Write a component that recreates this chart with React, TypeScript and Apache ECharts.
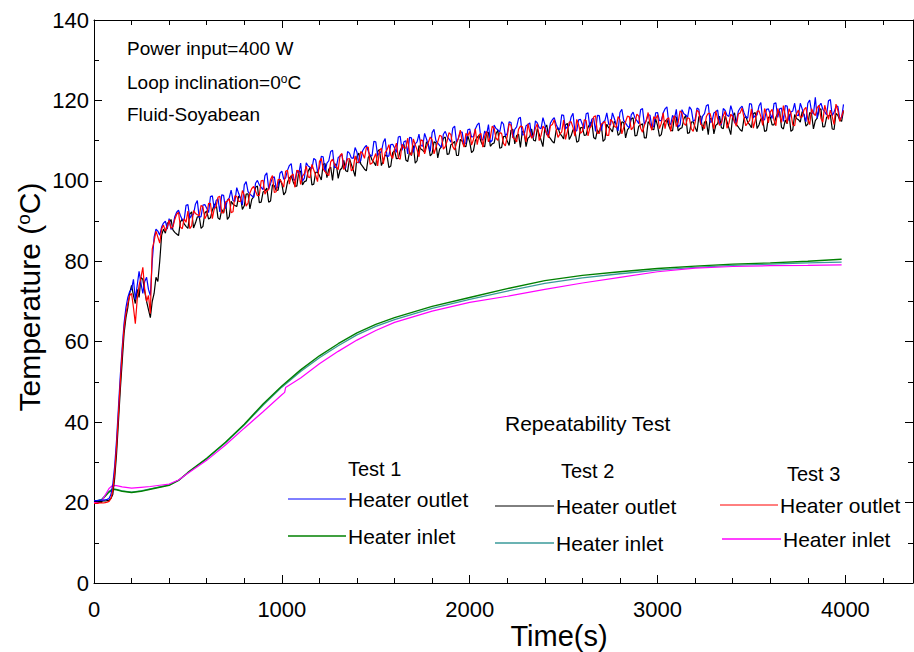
import React, { useEffect, useRef } from "react";
import * as echarts from "echarts";

// Sampling interval of the heater-outlet records (s)
const OUTLET_STEP_S = 10;

// Heater outlet temperature (°C), one value every 10 s from t = 0 to 3990 s
const outletTest1 = [
  20.5, 20.5, 20.5, 20.6, 20.6, 20.6, 20.7, 20.8, 21.0, 22.0, 24.5, 29.0, 35.5, 43.5, 51.5, 58.5, 64.5, 68.5, 71.0, 72.5,
  73.0, 75.5, 70.5, 74.0, 77.5, 74.5, 72.0, 75.0, 76.0, 73.0, 71.5, 80.0, 86.0, 88.0, 87.5, 86.5, 88.5, 89.5, 90.0, 88.0,
  90.6, 87.9, 88.6, 91.1, 92.2, 92.7, 91.4, 90.3, 90.3, 93.9, 94.1, 90.7, 91.5, 91.7, 94.2, 95.1, 90.9, 91.1, 94.0, 94.1,
  93.2, 92.1, 96.1, 96.3, 93.0, 95.1, 95.6, 92.3, 96.5, 96.4, 93.1, 95.2, 95.8, 97.7, 95.1, 94.9, 98.3, 96.9, 95.6, 94.0,
  99.0, 99.8, 97.3, 96.7, 96.3, 95.9, 99.4, 100.1, 99.0, 98.4, 97.8, 101.3, 102.0, 98.0, 99.3, 100.8, 101.0, 98.0, 98.6, 101.9,
  102.4, 100.4, 100.7, 102.6, 103.8, 104.3, 100.5, 100.1, 102.6, 101.7, 104.4, 100.0, 100.7, 104.5, 103.7, 103.4, 103.0, 105.6, 105.2, 102.3,
  103.2, 106.1, 106.0, 102.2, 104.4, 105.0, 107.3, 107.6, 103.3, 103.4, 105.8, 106.1, 106.6, 103.1, 103.3, 107.3, 106.9, 105.7, 105.6, 108.3,
  107.1, 104.4, 105.0, 107.5, 108.3, 108.8, 107.4, 106.3, 106.2, 109.8, 109.7, 106.3, 107.0, 107.2, 109.6, 110.5, 106.0, 106.2, 109.0, 109.1,
  108.2, 107.1, 110.9, 111.1, 107.6, 109.7, 110.0, 106.7, 110.8, 110.7, 107.1, 109.2, 109.7, 111.6, 108.8, 108.6, 111.8, 110.4, 108.9, 107.3,
  112.0, 112.8, 110.0, 109.4, 108.8, 108.4, 111.6, 112.3, 111.0, 110.4, 109.6, 113.1, 113.6, 109.6, 110.6, 112.1, 112.1, 109.1, 109.4, 112.7,
  112.9, 110.9, 111.0, 112.9, 113.9, 114.4, 110.5, 110.1, 112.4, 111.5, 114.0, 109.6, 110.1, 113.9, 113.0, 112.7, 112.1, 114.7, 114.1, 111.2,
  111.8, 114.7, 114.5, 110.7, 112.8, 113.4, 115.5, 115.8, 111.4, 111.5, 113.7, 114.0, 114.4, 110.9, 110.9, 114.9, 114.4, 113.2, 113.0, 115.7,
  114.1, 111.4, 111.9, 114.4, 115.2, 115.7, 114.1, 113.0, 112.8, 116.4, 116.3, 112.9, 113.5, 113.7, 115.9, 116.8, 112.3, 112.5, 115.2, 115.3,
  114.0, 112.9, 116.7, 116.9, 113.2, 115.3, 115.6, 112.3, 116.3, 116.2, 112.5, 114.6, 115.0, 116.9, 114.1, 113.9, 116.9, 115.5, 114.0, 112.4,
  117.0, 117.8, 115.0, 114.4, 113.6, 113.2, 116.4, 117.1, 115.6, 115.0, 114.2, 117.7, 118.0, 114.0, 115.0, 116.5, 116.3, 113.3, 113.6, 116.9,
  117.0, 115.0, 115.0, 116.9, 117.9, 118.4, 114.4, 114.0, 116.3, 115.4, 117.8, 113.4, 113.9, 117.7, 116.7, 116.4, 115.8, 118.4, 117.7, 114.8,
  115.2, 118.1, 117.8, 114.0, 116.1, 116.7, 118.7, 119.0, 114.6, 114.7, 116.9, 117.2, 117.6, 114.1, 114.0, 118.0, 117.5, 116.3, 116.0, 118.7,
  117.1, 114.4, 114.8, 117.3, 118.1, 118.6, 117.0, 115.9, 115.6, 119.2, 119.1, 115.7, 116.2, 116.4, 118.6, 119.5, 115.0, 115.2, 117.8, 117.9,
  116.6, 115.5, 119.2, 119.4, 115.8, 117.9, 118.1, 114.8, 118.7, 118.6, 115.0, 117.1, 117.4, 119.3, 116.4, 116.2, 119.3, 117.9, 116.3, 114.7,
  119.3, 120.1, 117.2, 116.6, 120.8, 115.5, 118.6, 119.3, 117.8, 117.2, 116.4, 119.9, 120.2, 116.2, 117.1, 118.6, 118.5, 115.5, 115.7, 119.0,
];

const outletTest2 = [
  20.3, 20.3, 20.3, 20.3, 20.3, 20.4, 20.4, 20.5, 20.6, 21.0, 22.0, 26.0, 32.0, 40.0, 48.0, 55.0, 62.0, 66.0, 68.5, 72.0,
  74.0, 71.5, 69.5, 73.0, 71.0, 76.0, 75.5, 72.5, 70.0, 68.0, 66.0, 70.0, 72.0, 76.0, 75.0, 80.0, 86.5, 88.0, 87.0, 89.5,
  89.6, 90.4, 87.8, 87.2, 86.8, 86.4, 89.8, 90.5, 89.3, 88.7, 88.2, 91.7, 92.3, 88.3, 89.5, 91.0, 91.2, 88.2, 88.7, 92.0,
  92.5, 90.5, 90.8, 92.7, 94.0, 94.5, 90.8, 90.4, 92.9, 92.0, 94.8, 90.4, 91.1, 94.9, 94.2, 93.9, 93.6, 96.2, 95.8, 92.9,
  93.8, 96.7, 96.8, 93.0, 95.4, 96.0, 98.4, 98.7, 94.6, 94.7, 97.2, 97.5, 98.2, 94.7, 95.0, 99.0, 98.8, 97.6, 97.7, 100.4,
  99.2, 96.5, 97.2, 99.7, 100.7, 101.2, 99.8, 98.7, 98.7, 102.3, 102.4, 99.0, 99.8, 100.0, 102.4, 103.3, 99.0, 99.2, 102.1, 102.2,
  101.3, 100.2, 104.1, 104.3, 100.8, 102.9, 103.4, 100.1, 104.2, 104.1, 100.6, 102.7, 103.2, 105.1, 102.5, 102.3, 105.5, 104.1, 102.7, 101.1,
  106.1, 106.9, 104.2, 103.6, 102.9, 102.5, 105.8, 106.5, 105.2, 104.6, 103.8, 107.3, 107.8, 103.8, 104.9, 106.4, 106.3, 103.3, 103.7, 107.0,
  107.5, 105.5, 105.6, 107.5, 108.6, 109.1, 105.2, 104.8, 107.2, 106.3, 108.8, 104.4, 105.0, 108.8, 107.9, 107.6, 107.1, 109.7, 109.1, 106.2,
  106.8, 109.7, 109.5, 105.7, 107.9, 108.5, 110.6, 110.9, 106.6, 106.7, 109.0, 109.3, 109.8, 106.3, 106.3, 110.3, 109.9, 108.7, 108.5, 111.2,
  109.7, 107.0, 107.5, 110.0, 110.8, 111.3, 109.8, 108.7, 108.5, 112.1, 112.0, 108.6, 109.2, 109.4, 111.7, 112.6, 108.1, 108.3, 111.0, 111.1,
  109.9, 108.8, 112.6, 112.8, 109.2, 111.3, 111.6, 108.3, 112.3, 112.2, 108.5, 110.6, 111.0, 112.9, 110.1, 109.9, 113.0, 111.6, 110.1, 108.5,
  113.1, 113.9, 111.1, 110.5, 109.8, 109.4, 112.5, 113.2, 111.8, 111.2, 110.4, 113.9, 114.3, 110.3, 111.2, 112.7, 112.6, 109.6, 109.9, 113.2,
  113.3, 111.3, 111.4, 113.3, 114.2, 114.7, 110.8, 110.4, 112.7, 111.8, 114.2, 109.8, 110.3, 114.1, 113.2, 112.9, 112.2, 114.8, 114.2, 111.3,
  111.8, 114.7, 114.5, 110.7, 112.7, 113.3, 115.4, 115.7, 111.2, 111.3, 113.6, 113.9, 114.2, 110.7, 110.7, 114.7, 114.1, 112.9, 112.7, 115.4,
  113.8, 111.1, 111.5, 114.0, 114.8, 115.3, 113.7, 112.6, 112.4, 116.0, 115.8, 112.4, 113.0, 113.2, 115.4, 116.3, 111.8, 112.0, 114.6, 114.7,
  113.3, 112.2, 115.9, 116.1, 112.5, 114.6, 114.8, 111.5, 115.5, 115.4, 111.7, 113.8, 114.2, 116.1, 113.2, 113.0, 116.1, 114.7, 113.1, 111.5,
  116.1, 116.9, 114.0, 113.4, 112.7, 112.3, 115.4, 116.1, 114.6, 114.0, 113.2, 116.7, 117.0, 113.0, 113.9, 115.4, 115.3, 112.3, 112.5, 115.8,
  115.9, 113.9, 113.9, 115.8, 116.8, 117.3, 113.3, 112.9, 115.1, 114.2, 116.7, 112.3, 112.7, 116.5, 115.5, 115.2, 114.6, 117.2, 116.5, 113.6,
  114.1, 117.0, 116.7, 112.9, 115.0, 115.6, 117.6, 117.9, 113.4, 113.5, 115.8, 116.1, 116.4, 112.9, 112.8, 116.8, 116.3, 115.1, 114.8, 117.5,
];

const outletTest3 = [
  19.8, 19.8, 19.8, 19.9, 19.9, 19.9, 20.0, 20.1, 20.3, 21.0, 23.0, 27.5, 34.0, 42.0, 50.0, 57.5, 63.5, 67.0, 69.5, 71.5,
  72.0, 68.5, 64.5, 70.5, 74.0, 76.0, 78.5, 73.0, 70.0, 71.5, 67.0, 83.0, 85.0, 87.5, 86.0, 84.5, 88.0, 89.0, 87.5, 88.5,
  90.2, 88.2, 88.5, 90.4, 91.7, 92.2, 88.5, 88.1, 90.6, 89.7, 92.5, 88.1, 88.8, 92.6, 91.9, 91.6, 91.3, 93.9, 93.5, 90.6,
  91.5, 94.4, 94.4, 90.6, 93.0, 93.6, 95.9, 96.2, 92.0, 92.1, 94.7, 95.0, 95.6, 92.1, 92.3, 96.3, 96.1, 94.9, 94.9, 97.6,
  96.4, 93.7, 94.5, 97.0, 98.1, 98.6, 97.4, 96.3, 96.4, 100.0, 100.1, 96.7, 97.6, 97.8, 100.4, 101.3, 97.1, 97.3, 100.3, 100.4,
  99.5, 98.4, 102.4, 102.6, 99.2, 101.3, 101.7, 98.4, 102.6, 102.5, 99.1, 101.2, 101.8, 103.7, 101.0, 100.8, 104.1, 102.7, 101.4, 99.8,
  104.8, 105.6, 102.9, 102.3, 101.7, 101.3, 104.7, 105.4, 104.1, 103.5, 102.8, 106.3, 106.8, 102.8, 104.0, 105.5, 105.5, 102.5, 102.9, 106.2,
  104.5, 104.7, 107.3, 106.8, 105.6, 108.3, 108.4, 104.1, 104.4, 105.6, 106.8, 103.7, 107.6, 108.1, 104.2, 107.0, 107.7, 109.0, 106.4, 105.6,
  107.9, 109.4, 105.7, 105.4, 109.1, 108.2, 108.1, 110.6, 106.9, 106.4, 110.4, 109.0, 107.7, 106.0, 110.2, 110.0, 106.7, 108.4, 109.6, 110.9,
  110.2, 106.7, 108.3, 109.7, 111.3, 111.1, 107.9, 108.5, 109.9, 112.0, 111.5, 108.5, 107.7, 109.4, 110.6, 112.6, 109.8, 108.4, 111.8, 111.2,
  112.3, 108.9, 110.3, 112.9, 109.0, 111.4, 111.8, 108.4, 111.1, 112.3, 109.7, 110.8, 113.6, 113.1, 110.6, 110.1, 112.0, 111.8, 109.3, 108.7,
  111.1, 114.2, 113.8, 110.8, 110.4, 109.7, 112.8, 113.6, 113.5, 111.6, 109.7, 114.2, 112.2, 110.6, 111.3, 113.1, 114.2, 110.0, 111.3, 113.6,
  112.9, 111.7, 110.7, 113.7, 114.0, 115.2, 112.9, 110.8, 111.6, 112.2, 115.1, 110.3, 112.3, 114.6, 114.7, 113.3, 111.1, 115.3, 114.0, 111.8,
  112.3, 115.2, 115.0, 111.2, 113.2, 113.8, 115.9, 116.2, 111.8, 111.9, 114.1, 114.4, 114.8, 111.3, 111.3, 115.3, 114.7, 113.5, 113.3, 116.0,
  115.2, 111.7, 113.3, 114.7, 116.1, 115.9, 112.7, 113.3, 114.5, 116.6, 116.1, 113.1, 112.1, 113.8, 115.0, 117.0, 114.0, 112.6, 116.0, 115.4,
  116.4, 113.0, 114.3, 116.9, 113.0, 115.4, 115.7, 112.3, 115.0, 116.2, 113.5, 114.6, 117.4, 116.9, 114.3, 113.8, 115.7, 115.5, 112.9, 112.3,
  114.5, 117.6, 117.1, 114.1, 113.7, 113.0, 116.0, 116.8, 116.7, 114.8, 112.9, 117.4, 115.4, 113.8, 114.4, 116.2, 117.3, 113.1, 114.3, 116.6,
  115.9, 114.7, 113.6, 116.6, 116.9, 118.1, 115.8, 113.7, 114.4, 115.0, 117.9, 113.1, 115.0, 117.3, 117.4, 116.0, 113.8, 118.0, 116.6, 114.4,
  117.1, 117.8, 115.1, 113.7, 118.0, 116.4, 114.5, 118.7, 116.3, 114.3, 117.9, 116.9, 113.9, 113.7, 116.7, 117.6, 115.8, 115.9, 117.7, 118.3,
  115.3, 114.0, 117.9, 116.9, 116.2, 118.2, 118.8, 115.5, 114.6, 118.8, 117.0, 115.3, 117.6, 116.0, 114.0, 119.1, 117.5, 114.8, 116.0, 117.5,
];

// Heater inlet temperature (°C) at the listed times (s)
const inletTime = [
  0, 40, 80, 100, 120, 150, 200, 250, 300, 350, 400, 450, 500, 600, 700, 800,
  900, 1000, 1100, 1200, 1300, 1400, 1500, 1600, 1800, 2000, 2200, 2400, 2600,
  2800, 3000, 3200, 3400, 3600, 3800, 3980,
];
const inletTest1 = [
  20.2, 20.6, 22.6, 23.3, 23.2, 22.8, 22.5, 22.8, 23.3, 23.8, 24.3, 25.5, 27.5,
  31.0, 35.0, 39.5, 44.5, 49.0, 53.0, 56.5, 59.5, 62.2, 64.3, 66.0, 68.8, 71.0,
  73.2, 75.2, 76.5, 77.4, 78.2, 78.8, 79.3, 79.6, 80.0, 80.5,
];
const inletTest2 = [
  20.3, 20.8, 22.8, 23.4, 23.3, 22.9, 22.6, 22.9, 23.4, 23.9, 24.4, 25.5, 27.4,
  30.9, 34.9, 39.3, 44.2, 48.7, 52.6, 56.0, 59.0, 61.7, 63.8, 65.5, 68.3, 70.5,
  72.6, 74.5, 75.9, 76.9, 77.8, 78.5, 79.0, 79.3, 79.6, 79.8,
];
const inletTest3Time = [
  0, 40, 80, 100, 120, 150, 200, 250, 300, 350, 400, 450, 500, 600, 700, 800,
  900, 1000, 1015, 1020, 1100, 1200, 1300, 1400, 1500, 1600, 1800, 2000, 2200,
  2400, 2600, 2800, 3000, 3200, 3400, 3600, 3800, 3980,
];
const inletTest3 = [
  20.0, 20.3, 23.5, 24.3, 24.2, 23.9, 23.6, 23.8, 24.0, 24.3, 24.6, 25.6, 27.3,
  30.5, 34.3, 38.5, 42.6, 46.8, 47.4, 48.6, 51.0, 54.5, 57.6, 60.4, 62.8, 64.8,
  67.6, 69.8, 71.3, 73.0, 74.6, 76.0, 77.4, 78.3, 78.7, 78.9, 79.0, 79.1,
];

const annotations = ["Power input=400 W", "Loop inclination=0{s|o}C", "Fluid-Soyabean"];
const legendTitle = "Repeatability Test";
const legendTests = ["Test 1", "Test 2", "Test 3"];
const legendItems = ["Heater outlet", "Heater inlet"];

const FONT = "'Liberation Sans', Arial, Helvetica, sans-serif";

export default function App() {
  const ref = useRef<HTMLDivElement>(null);

  useEffect(() => {
    document.body.style.margin = "0";
    if (!ref.current) return;
    const chart = echarts.init(ref.current, undefined, { renderer: "svg" });

    const outlet = (vals: number[]) => vals.map((v, i) => [i * OUTLET_STEP_S, v]);
    const paired = (ts: number[], vals: number[]) => vals.map((v, i) => [ts[i], v]);

    const lineSeries = (name: string, data: number[][], color: string, width: number) => ({
      name,
      type: "line",
      data,
      showSymbol: false,
      symbol: "none",
      silent: true,
      lineStyle: { color, width },
      itemStyle: { color },
      xAxisIndex: 0,
      yAxisIndex: 0,
    });

    const axisCommon = {
      axisLine: { show: true, onZero: false, lineStyle: { color: "#000", width: 1 } },
      axisTick: { show: true, inside: true, length: 8, lineStyle: { color: "#000" } },
      minorTick: { show: true, length: 5, lineStyle: { color: "#000" } },
      splitLine: { show: false },
      minorSplitLine: { show: false },
    };

    const txt = (text: string, x: number, y: number, size: number, extra: any = {}) => ({
      type: "text",
      x,
      y,
      silent: true,
      ...extra,
      style: {
        text,
        fill: "#000",
        fontSize: size,
        fontFamily: FONT,
        align: extra.align || "left",
        verticalAlign: "middle",
        textAlign: extra.align || "left",
        textVerticalAlign: "middle",
        rich: { s: { fontSize: Math.round(size * 0.62), verticalAlign: "top", fontFamily: FONT } },
      },
    });

    const seg = (x1: number, x2: number, y: number, color: string, w: number) => ({
      type: "line",
      silent: true,
      shape: { x1, y1: y, x2, y2: y },
      style: { stroke: color, lineWidth: w },
    });

    const legendCols = [
      { c: ["#0000ff", "#008000"], lx: 288, ix: 288, tx: 348, itx: 348, oy: 499, iy: 536, ttx: 348, tty: 469 },
      { c: ["#000000", "#3a9a9a"], lx: 495, ix: 495, tx: 556, itx: 556, oy: 506, iy: 543, ttx: 561, tty: 471 },
      { c: ["#ff0000", "#ff00ff"], lx: 720, ix: 722, tx: 780, itx: 783, oy: 505, iy: 539, ttx: 787, tty: 474 },
    ];

    const graphics: any[] = [
      txt(annotations[0], 127, 48, 19),
      txt(annotations[1], 127, 82, 19),
      txt(annotations[2], 127, 114, 19),
      txt("Time(s)", 559, 636, 29, { align: "center" }),
      {
        type: "text",
        x: 29,
        y: 297,
        rotation: Math.PI / 2,
        silent: true,
        style: {
          text: "Temperature ({s|o}C)",
          fill: "#000",
          fontSize: 30,
          fontFamily: FONT,
          align: "center",
          verticalAlign: "middle",
          textAlign: "center",
          textVerticalAlign: "middle",
          rich: { s: { fontSize: 19, verticalAlign: "top", fontFamily: FONT } },
        },
      },
      txt(legendTitle, 505, 423, 21),
    ];
    legendCols.forEach((col, k) => {
      graphics.push(txt(legendTests[k], col.ttx, col.tty, 20));
      graphics.push(seg(col.lx, col.tx - 2, col.oy, col.c[0], 1));
      graphics.push(txt(legendItems[0], col.tx, col.oy, 21));
      graphics.push(seg(col.ix, col.itx - 2, col.iy, col.c[1], 1.5));
      graphics.push(txt(legendItems[1], col.itx, col.iy, 21));
    });

    chart.setOption({
      animation: false,
      backgroundColor: "#ffffff",
      textStyle: { fontFamily: FONT },
      grid: { left: 94, top: 20, right: 1, bottom: 69, containLabel: false },
      xAxis: [
        {
          type: "value",
          min: 0,
          max: 4360,
          interval: 1000,
          position: "bottom",
          ...axisCommon,
          minorTick: { ...axisCommon.minorTick, splitNumber: 5 },
          axisLabel: {
            show: true,
            color: "#000",
            fontSize: 22,
            fontFamily: FONT,
            margin: 15,
            showMaxLabel: false,
            formatter: (v: number) => String(v),
          },
        },
        {
          type: "value",
          min: 0,
          max: 4360,
          interval: 1000,
          position: "top",
          ...axisCommon,
          minorTick: { ...axisCommon.minorTick, splitNumber: 5 },
          axisLabel: { show: false },
        },
      ],
      yAxis: [
        {
          type: "value",
          min: 0,
          max: 140,
          interval: 20,
          position: "left",
          ...axisCommon,
          minorTick: { ...axisCommon.minorTick, splitNumber: 2 },
          axisLabel: {
            show: true,
            color: "#000",
            fontSize: 22,
            fontFamily: FONT,
            margin: 5,
            formatter: (v: number) => String(v),
          },
        },
        {
          type: "value",
          min: 0,
          max: 140,
          interval: 20,
          position: "right",
          ...axisCommon,
          minorTick: { ...axisCommon.minorTick, splitNumber: 2 },
          axisLabel: { show: false },
        },
      ],
      series: [
        lineSeries("Test 2 Heater inlet", paired(inletTime, inletTest2), "#3a9a9a", 1.3),
        lineSeries("Test 1 Heater inlet", paired(inletTime, inletTest1), "#008000", 1.4),
        lineSeries("Test 3 Heater inlet", paired(inletTest3Time, inletTest3), "#ff00ff", 1.2),
        lineSeries("Test 2 Heater outlet", outlet(outletTest2), "#000000", 1.2),
        lineSeries("Test 1 Heater outlet", outlet(outletTest1), "#0000ff", 1.2),
        lineSeries("Test 3 Heater outlet", outlet(outletTest3), "#ff0000", 1.2),
      ],
      graphic: graphics,
    });

    return () => chart.dispose();
  }, []);

  return <div ref={ref} style={{ width: 914, height: 652 }} />;
}
